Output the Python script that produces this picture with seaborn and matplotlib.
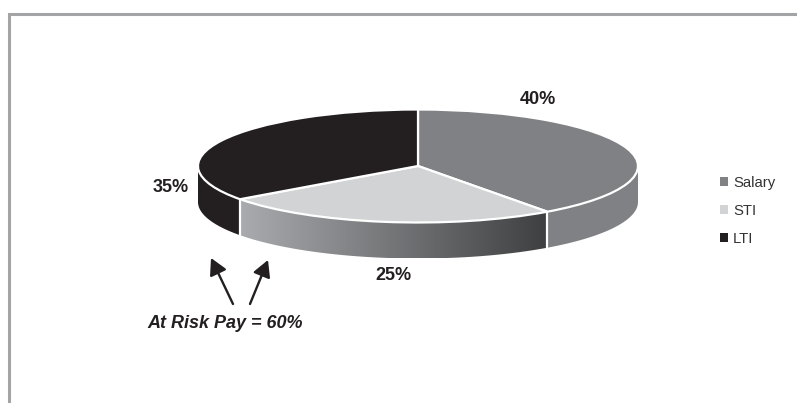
import numpy as np
import matplotlib
matplotlib.use("Agg")
import matplotlib.pyplot as plt
from matplotlib.colors import LinearSegmentedColormap
from matplotlib.patches import Patch, Polygon
import seaborn as sns

categories = ["Salary", "STI", "LTI"]
shares = [40, 25, 35]
share_labels = ["40%", "25%", "35%"]
note = "At Risk Pay = 60%"

W, H = 797, 403
CX, CY, RX, RY, DEPTH = 418, 166, 220, 56.5, 36
INK = "#231f20"
colors = sns.color_palette(["#808184", "#d1d3d4", INK])

sns.set_theme(style="white")
plt.rcParams["font.family"] = ["Liberation Sans", "DejaVu Sans"]

fig = plt.figure(figsize=(W / 100, H / 100), dpi=100, facecolor="white")

# Pie axes: the unit circle maps onto the pie's ellipse
ax = fig.add_axes([0, 0, 1, 1])
xlim = (-CX / RX, (W - CX) / RX)
ylim = ((CY - H) / RY, CY / RY)
d = DEPTH / RY

# cumulative boundaries, clockwise from 12 o'clock
fractions = np.array(shares, dtype=float) / sum(shares)
bounds = np.concatenate([[0], np.cumsum(fractions)]) * 2 * np.pi


def wall(a0, a1):
    a0, a1 = max(a0, np.pi / 2), min(a1, 3 * np.pi / 2)
    t = np.linspace(a0, a1, 200)
    x, y = np.sin(t), np.cos(t)
    pts = np.vstack([np.column_stack([x, y]), np.column_stack([x, y - d])[::-1]])
    return pts, a0, a1


# side walls
for i, color in enumerate(colors):
    pts, a0, a1 = wall(bounds[i], bounds[i + 1])
    if i == 1:
        cmap = LinearSegmentedColormap.from_list("wall", ["#a9abae", "#3e3f41"])
        poly = Polygon(pts, closed=True, facecolor="none", edgecolor="none")
        ax.add_patch(poly)
        x0, x1 = pts[:, 0].min(), pts[:, 0].max()
        im = ax.imshow(np.linspace(0, 1, 256)[None, :], cmap=cmap, aspect="auto",
                       extent=(x0, x1, pts[:, 1].min(), pts[:, 1].max()), zorder=1)
        im.set_clip_path(poly)
    else:
        ax.add_patch(Polygon(pts, closed=True, facecolor=color, edgecolor="none", zorder=1))

# white separators on the wall
for b in bounds[1:3]:
    ax.plot([np.sin(b)] * 2, [np.cos(b), np.cos(b) - d], color="white", lw=1.6, zorder=2)

# top face
ax.pie(shares, colors=colors, startangle=90, counterclock=False, radius=1, center=(0, 0),
       wedgeprops=dict(edgecolor="white", linewidth=1.6, zorder=3), frame=True)
ax.set_aspect("auto")
ax.set_xlim(*xlim)
ax.set_ylim(*ylim)
ax.axis("off")

# Overlay axes in picture pixels for annotations
ov = fig.add_axes([0, 0, 1, 1], facecolor="none")
ov.set_xlim(0, W)
ov.set_ylim(H, 0)
ov.axis("off")

# frame (top and left only)
ov.plot([9, 9, W], [H, 13.5, 13.5], color="#a3a4a6", lw=2.2, solid_joinstyle="miter",
        solid_capstyle="butt", clip_on=False)

label_pos = [(538, 100), (393, 276), (171, 188)]
for txt, (x, y) in zip(share_labels, label_pos):
    ov.text(x, y, txt, ha="center", va="center", fontsize=13, fontweight="bold", color=INK)

ov.text(225, 323, note, ha="center", va="center", fontsize=13, fontweight="bold",
        fontstyle="italic", color=INK)

for tail, tip in [((233, 304), (211, 258)), ((250, 304), (268, 260))]:
    ov.annotate("", xy=tip, xytext=tail,
                arrowprops=dict(arrowstyle="-|>,head_length=0.55,head_width=0.3", color=INK,
                                lw=1.7, mutation_scale=18, shrinkA=0, shrinkB=0))

handles = [Patch(facecolor=c, edgecolor="none") for c in colors]
ov.legend(handles, categories, loc="center left", bbox_to_anchor=(716, 211),
          bbox_transform=ov.transData, frameon=False, fontsize=10.7,
          labelcolor="#333333", handlelength=0.54, handleheight=0.54,
          handletextpad=0.32, labelspacing=0.95, borderpad=0, borderaxespad=0.3)

fig.savefig("out.png", dpi=100, facecolor="white")
